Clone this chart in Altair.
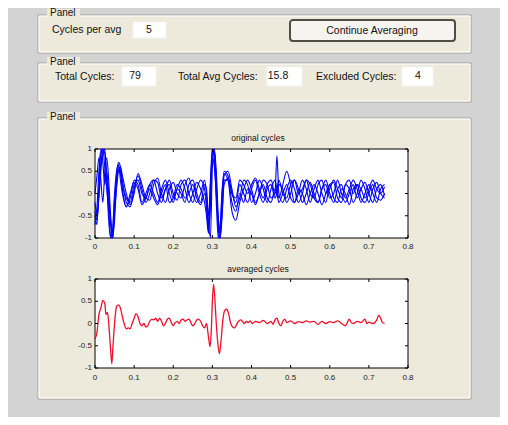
import altair as alt
import pandas as pd

# ---------------- data ----------------
T = [0, .005, .01, .015, .02, .025, .03, .035, .04, .045,
     .05, .055, .06, .065, .07, .08, .09, .1, .11, .12,
     .13, .14, .15, .16, .17, .18, .19, .2, .21, .22,
     .23, .24, .25, .26, .27, .28, .285, .29, .295, .3,
     .305, .31, .315, .32, .325, .33, .34, .35, .36, .37,
     .38, .39, .4, .41, .42, .43, .44, .45, .46, .465,
     .47, .48, .49, .5, .51, .52, .53, .54, .55, .56,
     .57, .58, .59, .6, .61, .62, .63, .64, .65, .66,
     .67, .68, .69, .7, .71, .72, .73, .74]

CYCLE_A = [-0.5, -0.7, 0.2, 0.9, 1.0, 0.6, 0.1, -0.4, -0.95, -1.0,
           -0.3, 0.4, 0.7, 0.6, 0.3, -0.2, -0.3, 0.1, 0.4, 0.1,
           -0.2, 0.0, 0.3, 0.25, -0.1, 0.1, 0.3, 0.0, -0.15, 0.2,
           0.3, 0.0, -0.2, 0.1, 0.3, 0.1, -0.2, -0.8, -0.3, 0.9,
           1.0, 0.2, -0.8, -1.0, -0.2, 0.4, 0.5, 0.1, -0.3, -0.1,
           0.3, 0.2, -0.2, 0.0, 0.3, 0.1, -0.2, 0.1, 0.3, 0.1,
           -0.1, 0.2, 0.5, 0.2, -0.2, 0.0, 0.3, 0.1, -0.2, 0.1,
           0.3, 0.0, -0.2, 0.2, 0.25, -0.1, -0.2, 0.2, 0.1, -0.2,
           0.0, 0.3, 0.1, -0.2, 0.1, 0.25, 0.0, -0.1]
CYCLE_B = [-0.2, -0.5, -0.1, 0.5, 1.0, 0.9, 0.4, -0.2, -0.7, -1.0,
           -0.6, 0.2, 0.6, 0.5, 0.2, -0.1, -0.2, 0.2, 0.3, 0.0,
           -0.1, 0.2, 0.3, 0.0, -0.2, 0.1, 0.2, -0.1, 0.1, 0.3,
           0.1, -0.2, 0.0, 0.25, 0.1, -0.2, -0.5, -0.9, -0.1, 1.0,
           0.8, -0.2, -1.0, -0.7, 0.1, 0.45, 0.3, -0.4, -0.6, -0.2,
           0.1, 0.3, 0.1, -0.2, 0.0, 0.3, 0.2, -0.1, 0.0, 0.85,
           0.0, -0.2, 0.1, 0.3, 0.1, -0.2, 0.0, 0.3, 0.2, -0.1,
           -0.2, 0.1, 0.3, 0.0, -0.2, 0.1, 0.2, -0.1, 0.1, 0.3,
           0.1, -0.2, 0.0, 0.2, 0.0, -0.2, 0.1, 0.2]
CYCLE_C = [-0.7, -0.3, 0.5, 1.0, 0.7, 0.2, 0.5, 0.0, -0.6, -0.9,
           -0.1, 0.3, 0.55, 0.45, 0.1, -0.3, -0.1, 0.3, 0.2, -0.2,
           0.0, 0.2, 0.0, -0.2, 0.1, 0.3, 0.0, -0.2, 0.1, 0.0,
           -0.2, 0.2, 0.3, 0.0, -0.2, 0.2, 0.1, -0.6, -1.0, 0.6,
           1.0, 0.5, -0.5, -0.9, -0.4, 0.2, 0.35, 0.0, -0.2, 0.2,
           0.0, -0.2, 0.1, 0.3, 0.0, -0.2, 0.1, 0.2, -0.1, 0.0,
           0.2, 0.1, -0.2, 0.0, 0.3, 0.1, -0.2, 0.0, 0.25, 0.0,
           -0.2, 0.1, 0.2, -0.1, 0.0, 0.3, 0.0, -0.2, 0.0, 0.2,
           -0.1, 0.1, 0.25, 0.0, -0.2, 0.1, 0.2, -0.05]
CYCLE_D = [0.0, 0.4, 0.8, 0.3, -0.2, 0.5, 0.8, 0.3, -0.5, -1.0,
           -0.4, 0.1, 0.5, 0.6, 0.4, 0.0, -0.25, 0.0, 0.45, 0.2,
           -0.1, -0.15, 0.2, 0.35, 0.0, -0.2, 0.1, 0.25, 0.0, -0.1,
           0.2, 0.35, 0.0, -0.2, 0.0, 0.3, 0.0, -0.5, 0.2, 0.8,
           0.6, 0.0, -0.6, -0.8, 0.0, 0.5, 0.4, 0.0, -0.1, 0.3,
           0.2, 0.0, 0.2, 0.35, 0.1, -0.1, 0.2, 0.3, 0.0, 0.1,
           0.3, 0.0, -0.1, 0.2, 0.3, 0.0, 0.1, 0.3, 0.0, -0.1,
           0.2, 0.3, 0.0, 0.1, 0.3, 0.1, -0.1, 0.2, 0.3, 0.0,
           0.2, 0.1, -0.1, 0.1, 0.3, 0.1, 0.0, 0.15]
CYCLE_E = [-0.4, -0.6, 0.0, 0.7, 0.9, 1.0, 0.3, -0.6, -1.0, -0.8,
           0.0, 0.5, 0.65, 0.3, 0.0, -0.3, 0.0, 0.25, 0.1, -0.25,
           -0.1, 0.1, -0.1, -0.25, 0.0, 0.2, -0.2, -0.1, 0.2, 0.1,
           -0.1, 0.0, 0.2, -0.1, -0.25, 0.0, -0.3, -0.85, 0.3, 1.0,
           0.9, 0.3, -0.7, -1.0, -0.5, 0.3, 0.3, -0.2, -0.4, 0.0,
           -0.2, 0.1, 0.0, -0.25, 0.0, 0.2, -0.1, -0.2, 0.1, 0.0,
           -0.2, 0.0, 0.2, -0.1, -0.2, 0.1, 0.0, -0.25, 0.0, 0.2,
           0.0, -0.25, 0.0, 0.2, -0.1, -0.2, 0.1, 0.0, -0.25, 0.1,
           0.2, -0.1, -0.2, 0.0, 0.2, -0.1, -0.15, 0.0]

AVG_POINTS = [
    (0, -0.35), (.005, -0.2), (.01, 0.2), (.015, 0.35), (.02, 0.52), (.025, 0.45),
    (.028, 0.2), (.032, 0.25), (.036, -0.1), (.04, -0.6), (.043, -0.9), (.046, -0.5),
    (.05, 0.0), (.055, 0.38), (.06, 0.42), (.065, 0.35), (.07, 0.15), (.075, -0.02),
    (.08, -0.12), (.085, -0.1), (.09, -0.12), (.095, 0.0), (.1, 0.12), (.105, 0.22),
    (.11, 0.15), (.115, 0.0), (.12, -0.05), (.125, 0.0), (.13, -0.08), (.135, -0.05),
    (.14, 0.05), (.145, 0.1), (.15, 0.08), (.155, 0.12), (.16, 0.05), (.165, 0.12),
    (.17, 0.05), (.175, -0.05), (.18, 0.0), (.185, 0.1), (.19, 0.12), (.195, 0.02),
    (.2, -0.05), (.205, 0.02), (.21, 0.05), (.215, 0.0), (.22, 0.08), (.225, 0.1),
    (.23, 0.05), (.235, 0.08), (.24, 0.1), (.245, 0.02), (.25, -0.05), (.255, 0.0),
    (.26, 0.08), (.265, 0.1), (.27, 0.05), (.275, -0.05), (.28, -0.1), (.285, 0.0),
    (.29, -0.3), (.294, -0.52), (.297, -0.2), (.3, 0.5), (.303, 0.88), (.306, 0.6),
    (.31, 0.0), (.314, -0.45), (.318, -0.68), (.322, -0.4), (.327, 0.1), (.332, 0.3),
    (.337, 0.32), (.342, 0.2), (.347, 0.0), (.352, -0.08), (.357, -0.1), (.362, -0.02),
    (.367, 0.05), (.372, 0.08), (.377, 0.05), (.382, 0.0), (.387, 0.05), (.392, 0.02),
    (.397, 0.06), (.402, 0.0), (.41, 0.05), (.42, 0.02), (.43, 0.07), (.44, 0.0),
    (.45, 0.05), (.455, -0.02), (.46, 0.08), (.465, 0.12), (.47, 0.0), (.475, -0.05),
    (.48, 0.05), (.485, 0.1), (.49, 0.02), (.5, 0.06), (.51, 0.0), (.52, 0.04),
    (.53, 0.02), (.54, 0.06), (.55, 0.03), (.56, 0.05), (.57, -0.02), (.58, 0.05),
    (.59, 0.0), (.6, 0.04), (.61, 0.02), (.62, 0.06), (.63, 0.0), (.64, -0.05),
    (.645, 0.02), (.65, 0.1), (.655, 0.02), (.66, 0.0), (.67, 0.05), (.68, 0.02),
    (.69, 0.1), (.695, 0.0), (.7, 0.03), (.71, 0.0), (.72, 0.08), (.725, 0.18),
    (.73, 0.12), (.735, 0.02), (.74, 0.0)]

XTICKS = [0, 0.1, 0.2, 0.3, 0.4, 0.5, 0.6, 0.7, 0.8]
XTICK_LABELS = ["0", "0.1", "0.2", "0.3", "0.4", "0.5", "0.6", "0.7", "0.8"]
YTICKS = [-1, -0.5, 0, 0.5, 1]
YTICK_LABELS = ["-1", "-0.5", "0", "0.5", "1"]

PANEL_TITLE = "Panel"
CYCLES_PER_AVG_LABEL, CYCLES_PER_AVG = "Cycles per avg", "5"
BUTTON_LABEL = "Continue Averaging"
TOTAL_LABEL, TOTAL = "Total Cycles:", "79"
AVG_LABEL, AVG_CYCLES = "Total Avg Cycles:", "15.8"
EXCL_LABEL, EXCLUDED = "Excluded Cycles:", "4"
TITLE1, TITLE2 = "original cycles", "averaged cycles"

# ---------------- layout (page pixels -> chart pixels) ----------------
M = 8
def P(v):
    return v - M

FONT = "Liberation Sans"
GREY = "#d3d3d3"
BEIGE = "#edeadc"

X_RANGE = [P(95), P(408)]
Y1_RANGE = [P(238), P(149)]
Y2_RANGE = [P(368), P(279)]

rects = []
for top, bot in [(15, 53), (63, 102), (118, 399)]:
    rects.append(dict(x=P(38), x2=P(471), y=P(top), y2=P(bot), fill=BEIGE, stroke="#a09e96", sw=1))
    rects.append(dict(x=P(39), x2=P(470), y=P(top + 1), y2=P(bot - 1), fill="transparent", stroke="#ffffff", sw=1))
    rects.append(dict(x=P(47), x2=P(80), y=P(top - 6), y2=P(top + 4), fill=BEIGE, stroke="transparent", sw=0))
for x0, x1, y0, y1 in [(133, 166, 22, 38), (122, 156, 67, 86), (267, 302, 67, 86), (402, 433, 67, 86)]:
    rects.append(dict(x=P(x0), x2=P(x1), y=P(y0), y2=P(y1), fill="#ffffff", stroke="#f4f4f4", sw=1))
rect_df = pd.DataFrame(rects)

deco_rects = alt.Chart(rect_df).mark_rect().encode(
    x=alt.X("x:Q", scale=None), x2="x2:Q",
    y=alt.Y("y:Q", scale=None), y2="y2:Q",
    fill=alt.Fill("fill:N", scale=None),
    stroke=alt.Stroke("stroke:N", scale=None),
    strokeWidth=alt.StrokeWidth("sw:Q", scale=None),
)

button = alt.Chart(pd.DataFrame({"x": [P(290)], "x2": [P(455)], "y": [P(20)], "y2": [P(41)]})).mark_rect(
    fill="#f5f4ef", stroke="#4f4e42", strokeWidth=2, cornerRadius=3
).encode(x=alt.X("x:Q", scale=None), x2="x2:Q", y=alt.Y("y:Q", scale=None), y2="y2:Q")

texts_left = pd.DataFrame([
    dict(x=P(50), y=P(13), text=PANEL_TITLE, fs=10),
    dict(x=P(50), y=P(62), text=PANEL_TITLE, fs=10),
    dict(x=P(50), y=P(117), text=PANEL_TITLE, fs=10),
    dict(x=P(52), y=P(30), text=CYCLES_PER_AVG_LABEL, fs=10.5),
    dict(x=P(55), y=P(77), text=TOTAL_LABEL, fs=10.5),
    dict(x=P(178), y=P(77), text=AVG_LABEL, fs=10.5),
    dict(x=P(316), y=P(77), text=EXCL_LABEL, fs=10.5),
])
texts_center = pd.DataFrame([
    dict(x=P(149), y=P(30), text=CYCLES_PER_AVG, fs=10.5),
    dict(x=P(372), y=P(31), text=BUTTON_LABEL, fs=10.5),
    dict(x=P(135), y=P(76), text=TOTAL, fs=10.5),
    dict(x=P(278), y=P(76), text=AVG_CYCLES, fs=10.5),
    dict(x=P(418), y=P(76), text=EXCLUDED, fs=10.5),
    dict(x=P(258), y=P(138), text=TITLE1, fs=8.5),
    dict(x=P(258), y=P(269), text=TITLE2, fs=8.5),
])

def text_layer(df, align):
    return alt.Chart(df).mark_text(align=align, baseline="middle", font=FONT, color="#111111").encode(
        x=alt.X("x:Q", scale=None), y=alt.Y("y:Q", scale=None),
        text="text:N", size=alt.Size("fs:Q", scale=None))

xs = alt.Scale(domain=[0, 0.8], range=X_RANGE, nice=False, zero=False)

def plot(y_range, line_layer, label_y):
    ys = alt.Scale(domain=[-1, 1], range=y_range, nice=False, zero=False)
    box = alt.Chart(pd.DataFrame({"t0": [0.0], "t1": [0.8], "v0": [-1.0], "v1": [1.0]})).mark_rect(
        fill="white", stroke="black", strokeWidth=1).encode(
        x=alt.X("t0:Q", scale=xs, axis=None), x2="t1:Q",
        y=alt.Y("v0:Q", scale=ys, axis=None), y2="v1:Q")
    lines = line_layer(ys)
    xt = pd.DataFrame({"t": XTICKS, "lab": XTICK_LABELS})
    yt = pd.DataFrame({"v": YTICKS, "lab": YTICK_LABELS})
    xb = alt.Chart(xt).mark_rule(color="black", strokeWidth=1).encode(
        x=alt.X("t:Q", scale=xs, axis=None), y=alt.value(y_range[0]), y2=alt.value(y_range[0] - 3))
    xtp = alt.Chart(xt).mark_rule(color="black", strokeWidth=1).encode(
        x=alt.X("t:Q", scale=xs, axis=None), y=alt.value(y_range[1]), y2=alt.value(y_range[1] + 3))
    xl = alt.Chart(xt).mark_text(fontSize=8, font=FONT, baseline="middle", color="#222222").encode(
        x=alt.X("t:Q", scale=xs, axis=None), y=alt.value(label_y), text="lab:N")
    yl_t = alt.Chart(yt).mark_rule(color="black", strokeWidth=1).encode(
        y=alt.Y("v:Q", scale=ys, axis=None), x=alt.value(X_RANGE[0]), x2=alt.value(X_RANGE[0] + 3))
    yr_t = alt.Chart(yt).mark_rule(color="black", strokeWidth=1).encode(
        y=alt.Y("v:Q", scale=ys, axis=None), x=alt.value(X_RANGE[1]), x2=alt.value(X_RANGE[1] - 3))
    yl = alt.Chart(yt).mark_text(fontSize=8, font=FONT, align="right", baseline="middle", color="#222222").encode(
        y=alt.Y("v:Q", scale=ys, axis=None), x=alt.value(P(92)), text="lab:N")
    return alt.layer(box, lines, xb, xtp, yl_t, yr_t, xl, yl)

rows = []
for name, vals in [("A", CYCLE_A), ("B", CYCLE_B), ("C", CYCLE_C), ("D", CYCLE_D), ("E", CYCLE_E)]:
    assert len(vals) == len(T), name
    for t, v in zip(T, vals):
        rows.append({"t": t, "v": v, "cycle": name})
orig_df = pd.DataFrame(rows)
avg_df = pd.DataFrame(AVG_POINTS, columns=["t", "v"])

def orig_lines(ys):
    return alt.Chart(orig_df).mark_line(color="#0000ff", strokeWidth=1.1, interpolate="monotone").encode(
        x=alt.X("t:Q", scale=xs, axis=None), y=alt.Y("v:Q", scale=ys, axis=None),
        detail="cycle:N", order="t:Q")

def avg_lines(ys):
    return alt.Chart(avg_df).mark_line(color="#f0102a", strokeWidth=1.3, interpolate="monotone").encode(
        x=alt.X("t:Q", scale=xs, axis=None), y=alt.Y("v:Q", scale=ys, axis=None), order="t:Q")

p1 = plot(Y1_RANGE, orig_lines, P(247))
p2 = plot(Y2_RANGE, avg_lines, P(378))

chart = alt.layer(
    deco_rects, button, text_layer(texts_left, "left"), text_layer(texts_center, "center"), p1, p2
).resolve_scale(y="independent").properties(
    width=492, height=409, padding=0,
    autosize=alt.AutoSizeParams(type="none"),
    background=GREY,
).configure_view(stroke=None)

chart.save("out.html", embed_options={"renderer": "svg", "actions": False})
